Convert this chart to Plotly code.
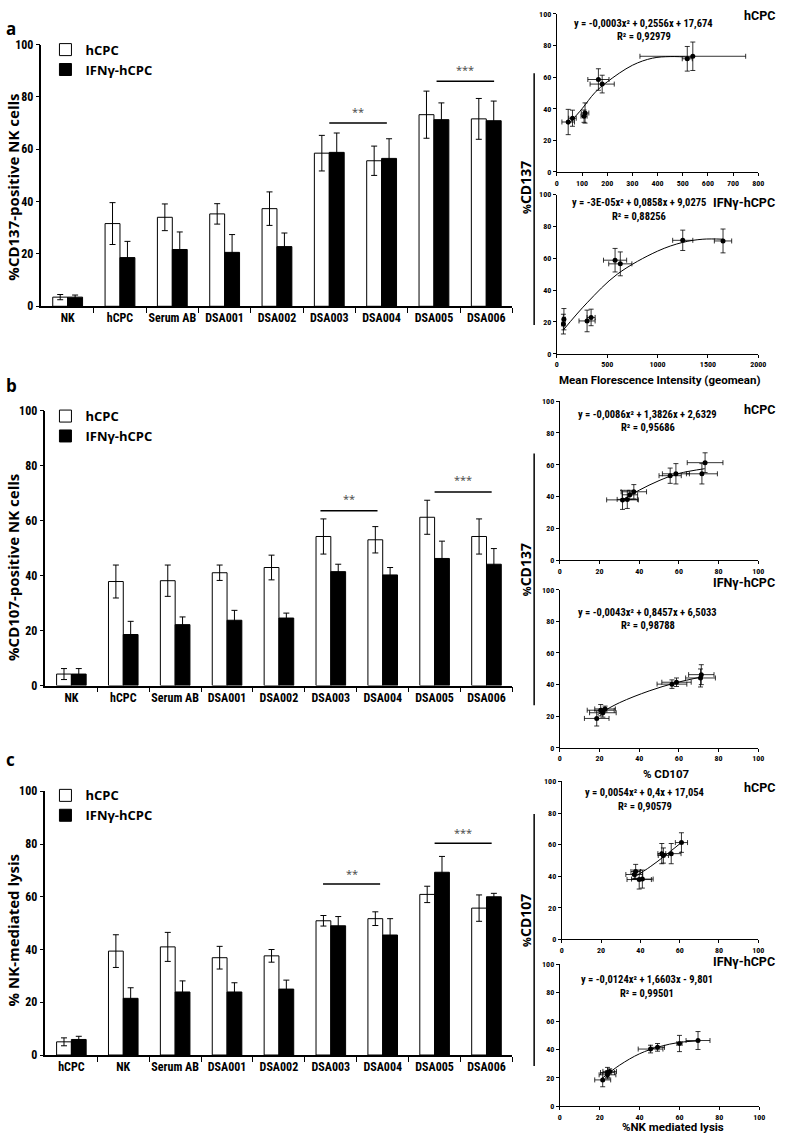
import plotly.graph_objects as go

W, H = 787, 1144
def px(x): return x / W
def py(y): return 1 - y / H

# ---------------- data ----------------
cats_ab = ["NK", "hCPC", "Serum AB", "DSA001", "DSA002", "DSA003", "DSA004", "DSA005", "DSA006"]
cats_c = ["hCPC", "NK", "Serum AB", "DSA001", "DSA002", "DSA003", "DSA004", "DSA005", "DSA006"]
series_names = ["hCPC", "IFNγ-hCPC"]

cd137_hcpc = [3.5, 31.6, 34.0, 35.3, 37.3, 58.5, 55.6, 73.2, 71.6]
cd137_hcpc_err = [1.0, 8.0, 5.1, 3.9, 6.4, 6.8, 5.6, 9.0, 7.8]
cd137_ifn = [3.5, 18.6, 21.7, 20.6, 22.8, 58.8, 56.5, 71.3, 70.9]
cd137_ifn_err = [0.8, 6.2, 6.7, 6.8, 5.2, 7.4, 7.5, 6.4, 7.5]

cd107_hcpc = [4.2, 37.9, 38.2, 41.1, 43.0, 54.3, 53.1, 61.3, 54.3]
cd107_hcpc_err = [2.0, 6.0, 5.7, 2.8, 4.5, 6.4, 4.8, 6.2, 6.4]
cd107_ifn = [4.2, 18.6, 22.2, 23.8, 24.6, 41.5, 40.3, 46.3, 44.2]
cd107_ifn_err = [2.0, 4.8, 2.8, 3.6, 1.8, 2.7, 2.7, 6.3, 5.7]

lysis_hcpc = [5.0, 39.4, 41.0, 36.9, 37.6, 50.9, 51.7, 60.9, 55.7]
lysis_hcpc_err = [1.5, 6.2, 5.5, 4.3, 2.4, 2.0, 2.6, 3.1, 5.0]
lysis_ifn = [5.9, 21.5, 23.9, 23.9, 25.0, 49.0, 45.5, 69.3, 60.0]
lysis_ifn_err = [1.2, 4.0, 4.2, 3.5, 3.4, 3.5, 6.2, 6.0, 1.3]

# MFI (geomean) for hCPC, Serum AB, DSA001..DSA006
mfi_hcpc = [45, 62, 108, 112, 165, 180, 540, 518]
mfi_hcpc_err = [25, 15, 12, 15, 42, 48, 210, 20]
mfi_ifn = [65, 70, 300, 340, 578, 630, 1250, 1650]
mfi_ifn_err = [15, 15, 80, 40, 115, 115, 100, 86]

# trend lines
trend_a_hcpc_x = [45, 100, 150, 200, 300, 380, 450, 540]
trend_a_hcpc_y = [30, 40, 50, 57, 67.5, 72, 73, 72.5]
trend_a_ifn_x = [65, 300, 600, 1000, 1250, 1450, 1650]
trend_a_ifn_y = [15, 32, 50, 64.5, 70, 72, 72]
trend_b_hcpc_x = [31, 40, 50, 60, 73]
trend_b_hcpc_y = [37.5, 44, 50, 54.5, 57.5]
trend_b_ifn_x = [19, 30, 45, 58, 72]
trend_b_ifn_y = [21, 28.5, 36, 41, 45]
trend_c_hcpc_x = [37, 45, 52, 61]
trend_c_hcpc_y = [39.5, 46, 52.5, 61.5]
trend_c_ifn_x = [21, 30, 40, 50, 60, 69]
trend_c_ifn_y = [19.5, 29, 37, 42, 45, 46]

eq_texts = [
    ("y = -0,0003x² + 0,2556x + 17,674", "R² = 0,92979"),
    ("y = -3E-05x² + 0,0858x + 9,0275", "R² = 0,88256"),
    ("y = -0,0086x² + 1,3826x + 2,6329", "R² = 0,95686"),
    ("y = -0,0043x² + 0,8457x + 6,5033", "R² = 0,98788"),
    ("y = 0,0054x² + 0,4x + 17,054", "R² = 0,90579"),
    ("y = -0,0124x² + 1,6603x - 9,801", "R² = 0,99501"),
]

# significance bars: (x0, x1, y_line, y_text, label)
sig_a = [(5.0, 6.1, 70, 74.5, "**"), (7.05, 8.15, 86, 90.5, "***")]
sig_b = [(4.8, 5.9, 63.7, 68, "**"), (7.0, 8.1, 70.5, 75, "***")]
sig_c = [(4.85, 5.95, 64.8, 69, "**"), (7.0, 8.1, 80.3, 84.5, "***")]

# ---------------- styling ----------------
NARROW = "Liberation Sans Narrow, Arial Narrow, Roboto Condensed, Liberation Sans, sans-serif"
SANS = "Open Sans, Noto Sans, sans-serif"
ROBOTO = "Roboto, Open Sans, sans-serif"

fig = go.Figure()
annotations = []
shapes = []

bar_panels = [
    (1, cats_ab, cd137_hcpc, cd137_hcpc_err, cd137_ifn, cd137_ifn_err, (40, 517), 38, 303, "legend",
     "%CD137-positive NK cells", 182, sig_a),
    (2, cats_ab, cd107_hcpc, cd107_hcpc_err, cd107_ifn, cd107_ifn_err, (44, 517), 409, 687, "legend2",
     "%CD107-positive NK cells", 567, sig_b),
    (3, cats_c, lysis_hcpc, lysis_hcpc_err, lysis_ifn, lysis_ifn_err, (44, 517), 794, 1061, "legend3",
     "% NK-mediated lysis", 935, sig_c),
]

layout_axes = {}
for (n, cats, hv, he, iv, ie, xd, yt, yb, leg, ytitle, ty, sig) in bar_panels:
    xa = "x" if n == 1 else f"x{n}"
    ya = "y" if n == 1 else f"y{n}"
    pos = list(range(len(cats)))
    fig.add_trace(go.Bar(
        x=pos, y=hv, name=series_names[0], xaxis=xa, yaxis=ya, legend=leg,
        marker=dict(color="white", line=dict(color="black", width=1)),
        error_y=dict(type="data", array=he, color="black", thickness=1, width=3),
        offsetgroup="a"))
    fig.add_trace(go.Bar(
        x=pos, y=iv, name=series_names[1], xaxis=xa, yaxis=ya, legend=leg,
        marker=dict(color="black", line=dict(color="black", width=1)),
        error_y=dict(type="data", array=ie, color="black", thickness=1, width=3),
        offsetgroup="b"))
    xk = "xaxis" if n == 1 else f"xaxis{n}"
    yk = "yaxis" if n == 1 else f"yaxis{n}"
    layout_axes[xk] = dict(
        domain=[px(xd[0]), px(xd[1])], range=[-0.5, len(cats) - 0.5], anchor=ya,
        tickmode="array", tickvals=pos, ticktext=cats, ticks="",
        tickfont=dict(family=NARROW, size=12, color="black", weight="bold"),
        minor=dict(tickmode="array", tickvals=[p + 0.5 for p in pos], ticks="outside",
                   ticklen=5, tickcolor="black", tickwidth=1.2, showgrid=False),
        showline=True, linecolor="black", linewidth=1.5, showgrid=False, zeroline=False,
        fixedrange=True)
    layout_axes[yk] = dict(
        domain=[py(yb), py(yt)], range=[0, 100], anchor=xa, dtick=20,
        ticks="outside", ticklen=4, tickcolor="black", tickwidth=1.2,
        tickfont=dict(family=NARROW, size=12, color="black", weight="bold"),
        showline=True, linecolor="black", linewidth=1.5, showgrid=False, zeroline=False)
    annotations.append(dict(
        text=ytitle, xref="paper", yref="paper", x=px(11), y=py(ty), textangle=-90,
        showarrow=False, xanchor="center", yanchor="middle",
        font=dict(family=SANS, size=15, color="black", weight="bold")))
    for (x0, x1, yl, ytx, lab) in sig:
        shapes.append(dict(type="line", xref=xa, yref=ya, x0=x0, x1=x1, y0=yl, y1=yl,
                           line=dict(color="black", width=1.5)))
        annotations.append(dict(text=lab, xref=xa, yref=ya, x=(x0 + x1) / 2, y=ytx,
                                showarrow=False, font=dict(family=SANS, size=11, color="#444")))

# ---------------- scatter panels ----------------
idx = slice(1, 9)
scatter_panels = [
    (4, mfi_hcpc, mfi_hcpc_err, cd137_hcpc[idx], cd137_hcpc_err[idx], trend_a_hcpc_x, trend_a_hcpc_y,
     (562, 766), 7, 167, 800, 100),
    (5, mfi_ifn, mfi_ifn_err, cd137_ifn[idx], cd137_ifn_err[idx], trend_a_ifn_x, trend_a_ifn_y,
     (562, 766), 190, 351, 2000, 500),
    (6, cd137_hcpc[idx], cd137_hcpc_err[idx], cd107_hcpc[idx], cd107_hcpc_err[idx], trend_b_hcpc_x, trend_b_hcpc_y,
     (565, 766), 399, 560, 100, 20),
    (7, cd137_ifn[idx], cd137_ifn_err[idx], cd107_ifn[idx], cd107_ifn_err[idx], trend_b_ifn_x, trend_b_ifn_y,
     (565, 766), 590, 750, 100, 20),
    (8, lysis_hcpc[idx], lysis_hcpc_err[idx], cd107_hcpc[idx], cd107_hcpc_err[idx], trend_c_hcpc_x, trend_c_hcpc_y,
     (567, 766), 784, 944, 100, 20),
    (9, lysis_ifn[idx], lysis_ifn_err[idx], cd107_ifn[idx], cd107_ifn_err[idx], trend_c_ifn_x, trend_c_ifn_y,
     (565, 767), 969, 1113, 100, 20),
]

for (n, xs, xe, ys, ye, tx, ty_, xd, yt, yb, xmax, dt) in scatter_panels:
    xa, ya = f"x{n}", f"y{n}"
    fig.add_trace(go.Scatter(
        x=tx, y=ty_, mode="lines", line=dict(color="black", width=1, shape="spline"),
        xaxis=xa, yaxis=ya, showlegend=False, hoverinfo="skip"))
    fig.add_trace(go.Scatter(
        x=xs, y=ys, mode="markers", xaxis=xa, yaxis=ya, showlegend=False,
        marker=dict(color="black", size=5),
        error_x=dict(type="data", array=xe, color="black", thickness=0.8, width=2.5),
        error_y=dict(type="data", array=ye, color="black", thickness=0.8, width=2.5)))
    layout_axes[f"xaxis{n}"] = dict(
        domain=[px(xd[0]), px(xd[1])], range=[0, xmax], dtick=dt, tick0=0, anchor=ya,
        ticks="outside", ticklen=3, tickcolor="black", tickwidth=1,
        tickfont=dict(family=NARROW, size=8, color="black", weight="bold"),
        showline=True, linecolor="black", linewidth=1, showgrid=False, zeroline=False)
    layout_axes[f"yaxis{n}"] = dict(
        domain=[py(yb), py(yt)], range=[0, 100], dtick=20, anchor=xa,
        ticks="outside", ticklen=3, tickcolor="black", tickwidth=1,
        tickfont=dict(family=NARROW, size=8, color="black", weight="bold"),
        showline=True, linecolor="black", linewidth=1, showgrid=False, zeroline=False)

# equations
eq_pos = [(650, 17, 30), (645, 198, 212), (654, 413, 426), (654, 613, 626), (651, 795, 809), (653, 985, 999)]
for (eq, r2), (cx, ey, ry) in zip(eq_texts, eq_pos):
    for t, yy in ((eq, ey), (r2, ry)):
        annotations.append(dict(text=t, xref="paper", yref="paper", x=px(cx), y=py(yy), showarrow=False,
                                xanchor="center", yanchor="middle",
                                font=dict(family=NARROW, size=10.5, color="black", weight="bold")))

# scatter panel labels (right aligned)
panel_labels = [("hCPC", 9), ("IFNγ-hCPC", 198), ("hCPC", 407),
                ("IFNγ-hCPC", 583), ("hCPC", 790), ("IFNγ-hCPC", 966)]
for t, cy in panel_labels:
    annotations.append(dict(text=t, xref="paper", yref="paper", x=px(785), y=py(cy), showarrow=False,
                            xanchor="right", yanchor="middle",
                            font=dict(family=ROBOTO, size=12.5, color="black", weight="bold")))

# scatter axis titles
x_titles = [("Mean Florescence Intensity (geomean)", 666, 378), ("% CD107", 673, 777),
            ("%NK mediated lysis", 680, 1134)]
for t, cx, cy in x_titles:
    annotations.append(dict(text=t, xref="paper", yref="paper", x=px(cx), y=py(cy), showarrow=False,
                            xanchor="center", yanchor="middle",
                            font=dict(family=ROBOTO, size=11.5, color="black", weight="bold")))
y_titles = [("CD137", 183, 67, 322), ("CD137", 570, 452, 707), ("CD107", 925, 817, 1072)]
for t, cy, l0, l1 in y_titles:
    annotations.append(dict(text="<span style='font-size:11px'>%</span>" + t, xref="paper", yref="paper",
                            x=px(530), y=py(cy), showarrow=False,
                            textangle=-90, xanchor="center", yanchor="middle",
                            font=dict(family=SANS, size=14, color="black", weight="bold")))
    shapes.append(dict(type="line", xref="paper", yref="paper", x0=px(539), x1=px(539),
                       y0=py(l0), y1=py(l1), line=dict(color="black", width=1.5)))

# panel letters
for t, cx, cy in [("a", 9, 22), ("b", 10, 383), ("c", 9, 762)]:
    annotations.append(dict(text=t, xref="paper", yref="paper", x=px(cx), y=py(cy), showarrow=False,
                            xanchor="center", yanchor="middle",
                            font=dict(family=SANS, size=17, color="black", weight="bold")))

legend_style = dict(xanchor="left", yanchor="top", bgcolor="rgba(0,0,0,0)",
                    font=dict(family=SANS, size=13, color="black", weight="bold"),
                    tracegroupgap=0, itemclick=False)

fig.update_layout(
    width=W, height=H, margin=dict(l=0, r=0, t=0, b=0),
    paper_bgcolor="white", plot_bgcolor="white",
    barmode="group", bargap=0.43, bargroupgap=0,
    legend=dict(x=px(44), y=py(28), **legend_style),
    legend2=dict(x=px(44), y=py(399), **legend_style),
    legend3=dict(x=px(44), y=py(783), **legend_style),
    annotations=annotations, shapes=shapes,
    **layout_axes)

fig.write_html("out.html", config={"displayModeBar": False},
               post_script="document.body.style.margin='0px';")
